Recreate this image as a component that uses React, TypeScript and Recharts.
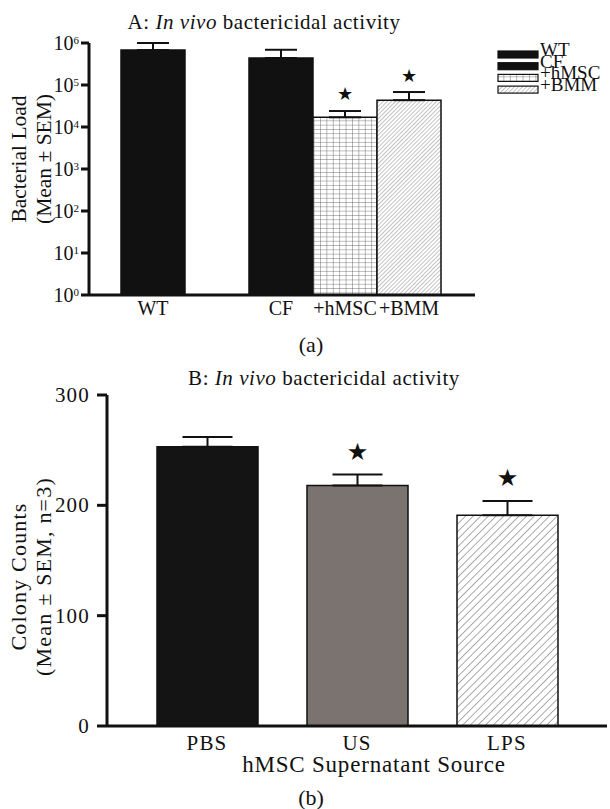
import React from 'react'
import { Bar, BarChart, Cell, ErrorBar, LabelList, Legend, XAxis, YAxis } from 'recharts'

const SERIF = "'Liberation Serif', 'Times New Roman', serif"
const INK = '#111'

// (a) bacterial load, log axis; the empty group is the gap after WT
const loadGroups = ['WT', '', 'CF', '+hMSC', '+BMM']
const loadMean = [680000, null, 440000, 17000, 43500]
const loadSem = [320000, null, 250000, 7000, 24500]
const loadStar = [false, false, false, true, true]
const loadTicks = [1, 10, 100, 1000, 10000, 100000, 1000000]

// (b) colony counts by supernatant source
const sourceGroups = ['PBS', 'US', 'LPS']
const colonyMean = [253, 218, 191]
const colonySem = [9, 10, 13]
const colonyStar = [false, true, true]
const colonyTicks = [0, 100, 200, 300]

const loadFills = [INK, 'none', INK, 'url(#gridFill)', 'url(#hatchA)']
const colonyFills = ['#141414', '#7a7370', 'url(#hatchB)']

const loadData = loadGroups.map((name, i) => ({
  name,
  mean: loadMean[i],
  err: loadMean[i] == null ? undefined : [0, loadSem[i]],
  star: loadStar[i] ? '★' : '',
}))

const colonyData = sourceGroups.map((name, i) => ({
  name,
  mean: colonyMean[i],
  err: [0, colonySem[i]],
  star: colonyStar[i] ? '★' : '',
}))

const legendItems = loadGroups
  .map((name, i) => ({ name, fill: loadFills[i] }))
  .filter((d) => d.name !== '')

// star sits above the SEM cap, worked out from the bar's own pixel height
const makeStar = (mean: any[], sem: any[], log: boolean, lift: number, size: number) => (props: any) => {
  const { index, value } = props
  if (!value) return null
  const x = Number(props.x)
  const y = Number(props.y)
  const width = Number(props.width)
  const height = Number(props.height)
  const m = mean[index]
  const e = sem[index]
  const unit = log ? height / Math.log10(m) : height / m
  const rise = log ? (Math.log10(m + e) - Math.log10(m)) * unit : e * unit
  return (
    <text x={x + width / 2} y={y - rise - lift} textAnchor="middle" fontSize={size} fontFamily="'DejaVu Sans'" fill={INK}>
      {value}
    </text>
  )
}

const PowerTick = (props: any) => {
  const { x, y, payload } = props
  return (
    <text x={x} y={y} textAnchor="end" fontFamily={SERIF} fill={INK}>
      <tspan dy={7} fontSize={20}>10</tspan>
      <tspan dy={-6} fontSize={11}>{Math.round(Math.log10(payload.value))}</tspan>
    </text>
  )
}

const PlainTick = (props: any) => {
  const { x, y, payload, anchor = 'middle', dy = 0, size = 20, spacing = 0 } = props
  return (
    <text x={x} y={y} dy={dy} textAnchor={anchor} fontSize={size} letterSpacing={spacing} fontFamily={SERIF} fill={INK}>
      {payload.value}
    </text>
  )
}

const StackedTitle = (props: any) => {
  const { viewBox, lines, xs, shift, size, spacing = 0 } = props
  const cy = viewBox.y + viewBox.height / 2 + shift
  return (
    <g>
      {lines.map((t: string, i: number) => (
        <text
          key={t}
          x={xs[i]}
          y={cy}
          dy="0.35em"
          transform={`rotate(-90 ${xs[i]} ${cy})`}
          textAnchor="middle"
          fontSize={size}
          letterSpacing={spacing}
          fontFamily={SERIF}
          fill={INK}
        >
          {t}
        </text>
      ))}
    </g>
  )
}

const LoadLegend = () => (
  <svg width={113} height={56} style={{ overflow: 'visible', display: 'block' }}>
    {legendItems.map((d, i) => {
      const base = 14 + i * 11.7
      return (
        <g key={d.name}>
          <rect x={1} y={base - 5} width={40} height={7} fill={d.fill} stroke={INK} strokeWidth={1.2} />
          <text x={43} y={base} fontSize={19} fontFamily={SERIF} fill={INK}>
            {d.name}
          </text>
        </g>
      )
    })}
  </svg>
)

const centered = (cx: number, cy: number, size: number, spacing = 0): React.CSSProperties => ({
  position: 'absolute',
  left: cx,
  top: cy,
  transform: 'translate(-50%, -50%)',
  fontSize: size,
  lineHeight: 1,
  letterSpacing: spacing,
  whiteSpace: 'nowrap',
})

const axisStroke = { stroke: INK, strokeWidth: 3 }

export default function App() {
  return (
    <div style={{ position: 'absolute', left: 0, top: 0, width: 610, height: 809, background: '#fff', fontFamily: SERIF, color: INK }}>
      <div style={{ position: 'absolute', left: 0, top: 0 }}>
        <BarChart width={610} height={370} data={loadData} margin={{ top: 43, right: 135, bottom: 0, left: 0 }} barCategoryGap={0}>
          <defs>
            <pattern id="gridFill" width={6.4} height={4.3} patternUnits="userSpaceOnUse">
              <rect width={6.4} height={4.3} fill="#fff" />
              <path d="M0 0 V4.3 M0 0 H6.4" stroke="#555" strokeWidth={0.8} />
            </pattern>
            <pattern id="hatchA" width={2.9} height={10} patternUnits="userSpaceOnUse" patternTransform="rotate(45)">
              <rect width={2.9} height={10} fill="#fff" />
              <line x1={0} y1={0} x2={0} y2={10} stroke="#666" strokeWidth={0.8} />
            </pattern>
            <pattern id="hatchB" width={5.4} height={10} patternUnits="userSpaceOnUse" patternTransform="rotate(45)">
              <rect width={5.4} height={10} fill="#fff" />
              <line x1={0} y1={0} x2={0} y2={10} stroke="#555" strokeWidth={1} />
            </pattern>
          </defs>
          <XAxis
            dataKey="name"
            height={75}
            padding={{ left: 32, right: 34 }}
            interval={0}
            tickLine={false}
            tickSize={0}
            tickMargin={0}
            axisLine={axisStroke}
            tick={<PlainTick dy={20} size={20} />}
          />
          <YAxis
            type="number"
            scale="log"
            domain={[1, 1000000]}
            ticks={loadTicks}
            allowDataOverflow
            interval={0}
            width={89}
            tickSize={8}
            tickMargin={2}
            axisLine={axisStroke}
            tickLine={axisStroke}
            tick={<PowerTick />}
            label={<StackedTitle lines={['Bacterial Load', '(Mean ± SEM)']} xs={[18, 43]} shift={-10} size={21.5} />}
          />
          <Legend
            layout="horizontal"
            align="center"
            verticalAlign="middle"
            content={LoadLegend}
            wrapperStyle={{ position: 'absolute', left: 497, top: 42, width: 113, height: 56 }}
          />
          <Bar dataKey="mean" isAnimationActive={false} stroke={INK} strokeWidth={1.5}>
            {loadData.map((d, i) => (
              <Cell key={i} fill={loadFills[i]} />
            ))}
            <ErrorBar dataKey="err" direction="y" width={16} stroke={INK} strokeWidth={2} />
            <LabelList dataKey="star" content={makeStar(loadMean, loadSem, true, 11.5, 18)} />
          </Bar>
        </BarChart>
      </div>

      <div style={{ position: 'absolute', left: 0, top: 370 }}>
        <BarChart width={610} height={439} data={colonyData} margin={{ top: 25, right: 3, bottom: 0, left: 0 }}>
          <XAxis
            dataKey="name"
            height={83}
            padding={{ left: 25, right: 25 }}
            interval={0}
            tickLine={false}
            tickSize={0}
            tickMargin={0}
            axisLine={axisStroke}
            tick={<PlainTick dy={23.5} size={21} spacing={1.2} />}
          />
          <YAxis
            type="number"
            domain={[0, 300]}
            ticks={colonyTicks}
            interval={0}
            width={107}
            tickSize={10}
            tickMargin={7}
            axisLine={axisStroke}
            tickLine={axisStroke}
            tick={<PlainTick anchor="end" dy={7} size={21} spacing={1.2} />}
            label={<StackedTitle lines={['Colony Counts', '(Mean ± SEM, n=3)']} xs={[18, 43]} shift={16} size={22} spacing={1.2} />}
          />
          <Bar dataKey="mean" barSize={101} isAnimationActive={false} stroke={INK} strokeWidth={1.5}>
            {colonyData.map((d, i) => (
              <Cell key={i} fill={colonyFills[i]} />
            ))}
            <ErrorBar dataKey="err" direction="y" width={25} stroke={INK} strokeWidth={2} />
            <LabelList dataKey="star" content={makeStar(colonyMean, colonySem, false, 14.5, 24)} />
          </Bar>
        </BarChart>
      </div>

      <div style={centered(264, 22, 21, 0.55)}>
        A: <i>In vivo</i> bactericidal activity
      </div>
      <div style={centered(311, 345, 22)}>(a)</div>
      <div style={centered(324, 378, 21, 0.55)}>
        B: <i>In vivo</i> bactericidal activity
      </div>
      <div style={centered(374, 764, 23, 0.8)}>hMSC Supernatant Source</div>
      <div style={centered(311, 798, 22)}>(b)</div>
    </div>
  )
}
